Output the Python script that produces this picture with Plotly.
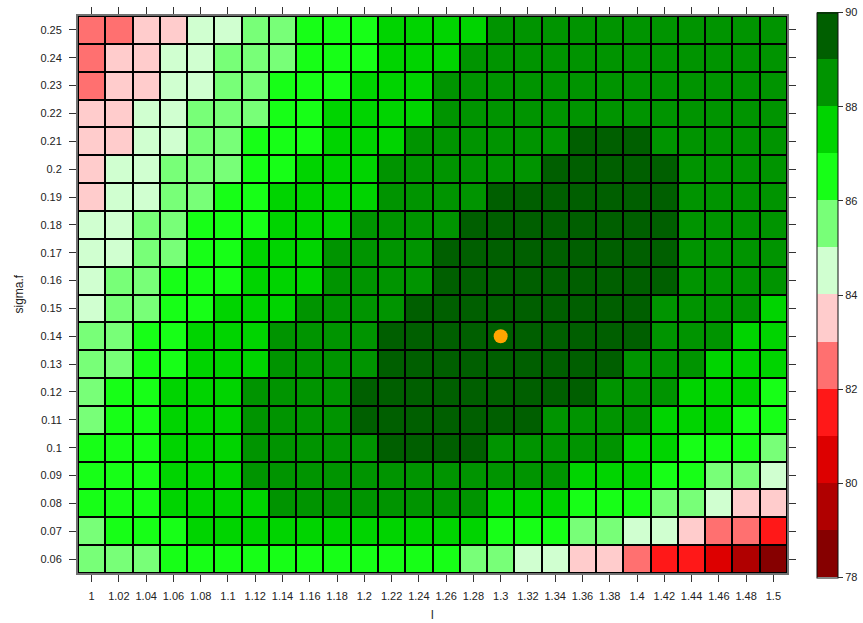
import plotly.graph_objects as go

# Grid of tuning parameters
l_values = [1.00, 1.02, 1.04, 1.06, 1.08, 1.10, 1.12, 1.14, 1.16, 1.18, 1.20, 1.22, 1.24,
            1.26, 1.28, 1.30, 1.32, 1.34, 1.36, 1.38, 1.40, 1.42, 1.44, 1.46, 1.48, 1.50]
sigma_f_values = [0.06, 0.07, 0.08, 0.09, 0.10, 0.11, 0.12, 0.13, 0.14, 0.15,
                  0.16, 0.17, 0.18, 0.19, 0.20, 0.21, 0.22, 0.23, 0.24, 0.25]

l_tick_text = ["1", "1.02", "1.04", "1.06", "1.08", "1.1", "1.12", "1.14", "1.16", "1.18",
               "1.2", "1.22", "1.24", "1.26", "1.28", "1.3", "1.32", "1.34", "1.36", "1.38",
               "1.4", "1.42", "1.44", "1.46", "1.48", "1.5"]
sigma_f_tick_text = ["0.06", "0.07", "0.08", "0.09", "0.1", "0.11", "0.12", "0.13", "0.14", "0.15",
                     "0.16", "0.17", "0.18", "0.19", "0.2", "0.21", "0.22", "0.23", "0.24", "0.25"]
colorbar_ticks = [78, 80, 82, 84, 86, 88, 90]

# Score per (sigma.f, l); rows run from sigma.f = 0.06 up to 0.25
score = [
    [85.5, 85.5, 85.5, 86.5, 86.5, 86.5, 86.5, 86.5, 86.5, 86.5, 86.5, 86.5, 86.5, 86.5, 85.5, 85.5, 84.5, 84.5, 83.5, 83.5, 82.5, 81.5, 81.5, 80.5, 79.5, 78.5],
    [85.5, 86.5, 86.5, 86.5, 87.5, 87.5, 87.5, 87.5, 87.5, 87.5, 87.5, 87.5, 87.5, 87.5, 87.5, 86.5, 86.5, 86.5, 85.5, 85.5, 84.5, 84.5, 83.5, 82.5, 82.5, 81.5],
    [86.5, 86.5, 86.5, 87.5, 87.5, 87.5, 87.5, 88.5, 88.5, 88.5, 88.5, 88.5, 88.5, 88.5, 88.5, 87.5, 87.5, 87.5, 86.5, 86.5, 86.5, 85.5, 85.5, 84.5, 83.5, 83.5],
    [86.5, 86.5, 86.5, 87.5, 87.5, 87.5, 88.5, 88.5, 88.5, 88.5, 88.5, 88.5, 88.5, 88.5, 88.5, 88.5, 88.5, 88.5, 87.5, 87.5, 87.5, 86.5, 86.5, 85.5, 85.5, 84.5],
    [86.5, 86.5, 86.5, 87.5, 87.5, 87.5, 88.5, 88.5, 88.5, 88.5, 88.5, 89.5, 89.5, 89.5, 89.5, 88.5, 88.5, 88.5, 88.5, 88.5, 87.5, 87.5, 86.5, 86.5, 86.5, 85.5],
    [85.5, 86.5, 86.5, 87.5, 87.5, 87.5, 88.5, 88.5, 88.5, 88.5, 89.5, 89.5, 89.5, 89.5, 89.5, 89.5, 89.5, 88.5, 88.5, 88.5, 88.5, 87.5, 87.5, 87.5, 86.5, 86.5],
    [85.5, 86.5, 86.5, 87.5, 87.5, 87.5, 88.5, 88.5, 88.5, 88.5, 89.5, 89.5, 89.5, 89.5, 89.5, 89.5, 89.5, 89.5, 89.5, 88.5, 88.5, 88.5, 87.5, 87.5, 87.5, 86.5],
    [85.5, 85.5, 86.5, 86.5, 87.5, 87.5, 87.5, 88.5, 88.5, 88.5, 88.5, 89.5, 89.5, 89.5, 89.5, 89.5, 89.5, 89.5, 89.5, 89.5, 88.5, 88.5, 88.5, 87.5, 87.5, 87.5],
    [85.5, 85.5, 86.5, 86.5, 87.5, 87.5, 87.5, 88.5, 88.5, 88.5, 88.5, 89.5, 89.5, 89.5, 89.5, 89.5, 89.5, 89.5, 89.5, 89.5, 89.5, 88.5, 88.5, 88.5, 87.5, 87.5],
    [84.5, 85.5, 85.5, 86.5, 86.5, 87.5, 87.5, 87.5, 88.5, 88.5, 88.5, 88.5, 89.5, 89.5, 89.5, 89.5, 89.5, 89.5, 89.5, 89.5, 89.5, 88.5, 88.5, 88.5, 88.5, 87.5],
    [84.5, 85.5, 85.5, 86.5, 86.5, 86.5, 87.5, 87.5, 87.5, 88.5, 88.5, 88.5, 88.5, 89.5, 89.5, 89.5, 89.5, 89.5, 89.5, 89.5, 89.5, 89.5, 88.5, 88.5, 88.5, 88.5],
    [84.5, 84.5, 85.5, 85.5, 86.5, 86.5, 87.5, 87.5, 87.5, 88.5, 88.5, 88.5, 88.5, 89.5, 89.5, 89.5, 89.5, 89.5, 89.5, 89.5, 89.5, 89.5, 88.5, 88.5, 88.5, 88.5],
    [84.5, 84.5, 85.5, 85.5, 86.5, 86.5, 86.5, 87.5, 87.5, 87.5, 88.5, 88.5, 88.5, 88.5, 89.5, 89.5, 89.5, 89.5, 89.5, 89.5, 89.5, 89.5, 88.5, 88.5, 88.5, 88.5],
    [83.5, 84.5, 84.5, 85.5, 85.5, 86.5, 86.5, 87.5, 87.5, 87.5, 87.5, 88.5, 88.5, 88.5, 88.5, 89.5, 89.5, 89.5, 89.5, 89.5, 89.5, 89.5, 88.5, 88.5, 88.5, 88.5],
    [83.5, 84.5, 84.5, 85.5, 85.5, 85.5, 86.5, 86.5, 87.5, 87.5, 87.5, 88.5, 88.5, 88.5, 88.5, 88.5, 88.5, 89.5, 89.5, 89.5, 89.5, 89.5, 88.5, 88.5, 88.5, 88.5],
    [83.5, 83.5, 84.5, 84.5, 85.5, 85.5, 86.5, 86.5, 86.5, 87.5, 87.5, 87.5, 88.5, 88.5, 88.5, 88.5, 88.5, 88.5, 89.5, 89.5, 89.5, 88.5, 88.5, 88.5, 88.5, 88.5],
    [83.5, 83.5, 84.5, 84.5, 85.5, 85.5, 85.5, 86.5, 86.5, 87.5, 87.5, 87.5, 87.5, 88.5, 88.5, 88.5, 88.5, 88.5, 88.5, 88.5, 88.5, 88.5, 88.5, 88.5, 88.5, 88.5],
    [82.5, 83.5, 83.5, 84.5, 84.5, 85.5, 85.5, 86.5, 86.5, 86.5, 87.5, 87.5, 87.5, 88.5, 88.5, 88.5, 88.5, 88.5, 88.5, 88.5, 88.5, 88.5, 88.5, 88.5, 88.5, 88.5],
    [82.5, 83.5, 83.5, 84.5, 84.5, 85.5, 85.5, 85.5, 86.5, 86.5, 86.5, 87.5, 87.5, 87.5, 88.5, 88.5, 88.5, 88.5, 88.5, 88.5, 88.5, 88.5, 88.5, 88.5, 88.5, 88.5],
    [82.5, 82.5, 83.5, 83.5, 84.5, 84.5, 85.5, 85.5, 86.5, 86.5, 86.5, 87.5, 87.5, 87.5, 87.5, 88.5, 88.5, 88.5, 88.5, 88.5, 88.5, 88.5, 88.5, 88.5, 88.5, 88.5],
]

# Best setting found on the grid
best_l = [1.30]
best_sigma_f = [0.14]

# One colour per unit band from 78 to 90
band_colors = ["#860000", "#B00000", "#DD0000", "#FF1818", "#FF7070", "#FFCCCC",
               "#D0FFD0", "#78FF78", "#17FF17", "#00D400", "#009400", "#005F00"]
z_min, z_max = 78, 90
colorscale = []
n = len(band_colors)
for k, c in enumerate(band_colors):
    colorscale.append([k / n, c])
    colorscale.append([(k + 1) / n, c])

font_family = "Liberation Sans, Arial, sans-serif"
tick_color = "#333333"
W, H = 863, 623
M_L, M_R, M_T, M_B = 78, 76, 16, 50
plot_w = W - M_L - M_R
plot_h = H - M_T - M_B

fig = go.Figure()
fig.add_trace(go.Heatmap(
    x=l_values, y=sigma_f_values, z=score,
    zmin=z_min, zmax=z_max, colorscale=colorscale,
    xgap=2, ygap=2,
    colorbar=dict(
        x=(817 - M_L) / plot_w, xanchor="left",
        y=(H - M_B - 295) / plot_h, yanchor="middle",
        thickness=21, lenmode="pixels", len=565,
        outlinecolor="#111111", outlinewidth=1,
        tickvals=colorbar_ticks,
        ticks="outside", ticklen=5, tickcolor=tick_color,
        tickfont=dict(family=font_family, size=11, color="#222222"),
        xpad=0, ypad=0,
    ),
    hoverinfo="x+y+z",
))
fig.add_trace(go.Scatter(
    x=best_l, y=best_sigma_f, mode="markers",
    marker=dict(color="#FFA500", size=14, line=dict(width=0)),
    showlegend=False, hoverinfo="x+y",
))

fig.update_layout(
    width=W, height=H,
    margin=dict(l=M_L, r=M_R, t=M_T, b=M_B, autoexpand=False),
    paper_bgcolor="white", plot_bgcolor="black",
    font=dict(family=font_family, size=11, color="#222222"),
    showlegend=False,
    annotations=[
        dict(text="l", xref="paper", yref="paper", x=0.5, y=-42 / plot_h,
             xanchor="center", yanchor="middle", showarrow=False,
             font=dict(size=12, color="#222222")),
        dict(text="sigma.f", xref="paper", yref="paper", x=-60 / plot_w, y=0.5,
             xanchor="center", yanchor="middle", textangle=-90, showarrow=False,
             font=dict(size=12, color="#222222")),
    ],
)
fig.update_xaxes(
    range=[0.99, 1.51], tickvals=l_values, ticktext=l_tick_text,
    ticks="outside", ticklen=7, tickcolor=tick_color, tickwidth=1,
    showline=True, linecolor="#707070", linewidth=2, mirror="ticks",
    showgrid=False, zeroline=False, ticklabelstandoff=5, automargin=False,
)
fig.update_yaxes(
    range=[0.055, 0.255], tickvals=sigma_f_values, ticktext=sigma_f_tick_text,
    ticks="outside", ticklen=7, tickcolor=tick_color, tickwidth=1,
    showline=True, linecolor="#707070", linewidth=2, mirror="ticks",
    showgrid=False, zeroline=False, ticklabelstandoff=5, automargin=False,
)

fig.write_html("out.html")
